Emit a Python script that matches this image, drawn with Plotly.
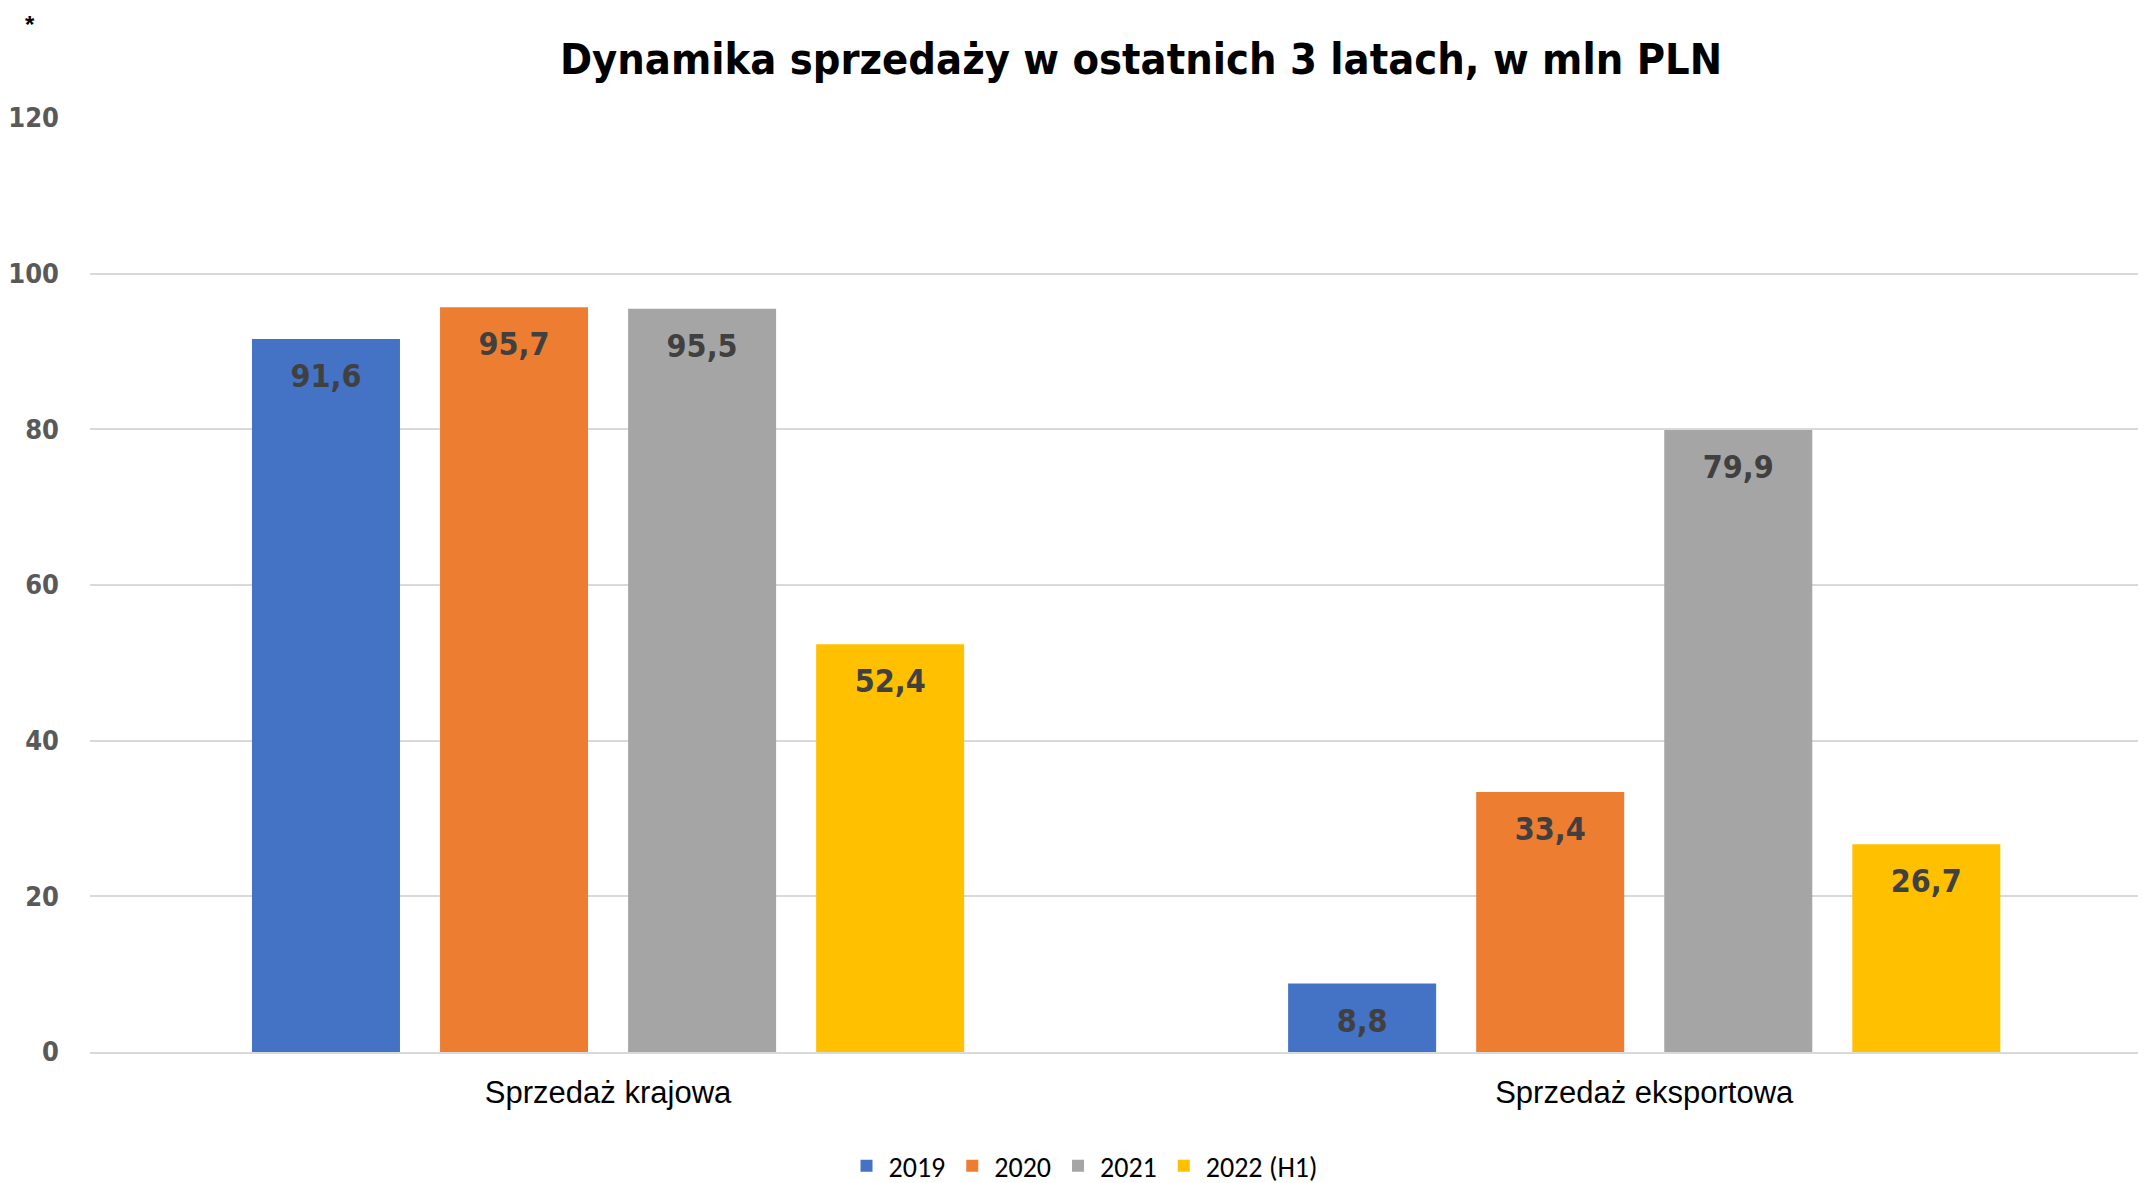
import plotly.graph_objects as go

categories = ["Sprzedaż krajowa", "Sprzedaż eksportowa"]
series_names = ["2019", "2020", "2021", "2022 (H1)"]
values_2019 = [91.6, 8.8]
values_2020 = [95.7, 33.4]
values_2021 = [95.5, 79.9]
values_2022 = [52.4, 26.7]
colors = ["#4472C4", "#ED7D31", "#A5A5A5", "#FFC000"]
y_ticks = [0, 20, 40, 60, 80, 100, 120]

NARROW = "Liberation Sans Narrow, Arial Narrow, DejaVu Sans Condensed, sans-serif"
OFF = 8  # default body margin of the page

fig = go.Figure()
for name, vals, col in zip(series_names, [values_2019, values_2020, values_2021, values_2022], colors):
    labels = [f"{v:.1f}".replace(".", ",") for v in vals]
    fig.add_trace(go.Bar(
        name=name, x=categories, y=vals, marker_color=col,
        marker_line_width=0,
        text=labels,
        texttemplate="&nbsp;<br><span style='font-size:32px'>%{text}</span>",
        textposition="inside", insidetextanchor="end",
        textfont=dict(family=NARROW, size=20, color="#404040", weight="bold"),
        constraintext="none",
    ))

fig.update_layout(
    width=2146, height=1183,
    margin=dict(l=90 - OFF, r=0, t=118 - OFF, b=131 + OFF, autoexpand=False),
    plot_bgcolor="white", paper_bgcolor="white",
    barmode="group", bargap=0.274, bargroupgap=0.213,
    title=dict(text="<b>Dynamika sprzedaży w ostatnich 3 latach, w mln PLN</b>",
               x=(1141 - OFF) / 2146, xref="container", xanchor="center",
               y=1 - (59 - OFF) / 1183, yref="container", yanchor="middle",
               font=dict(family=NARROW, size=43, color="black")),
    legend=dict(orientation="h", x=(1084 - OFF) / 2146, xref="container", xanchor="center",
                y=0, yref="container", yanchor="bottom",
                font=dict(family="Carlito, Calibri, Liberation Sans, sans-serif", size=28, color="black"),
                traceorder="normal", itemwidth=34),
    showlegend=True,
)
fig.update_yaxes(range=[0, 120], tickvals=y_ticks, showgrid=True, gridcolor="#D9D9D9", gridwidth=2,
                 zeroline=False, showline=False, ticks="", ticklabelstandoff=30,
                 tickfont=dict(family=NARROW, size=27, color="#595959", weight="bold"))
fig.update_xaxes(range=[-0.5, 1.492], showline=True, linecolor="#D9D9D9", linewidth=2, ticks="",
                 ticklabelstandoff=12,
                 tickfont=dict(family="Liberation Sans, Arial, sans-serif", size=31, color="black"))

fig.add_annotation(text="<b>*</b>", x=(23 - 90) / 2064, y=(1052 - 9) / 934, xref="paper", yref="paper",
                   showarrow=False, font=dict(family="Liberation Sans, Arial, sans-serif", size=24, color="black"))

fig.write_html("out.html")
